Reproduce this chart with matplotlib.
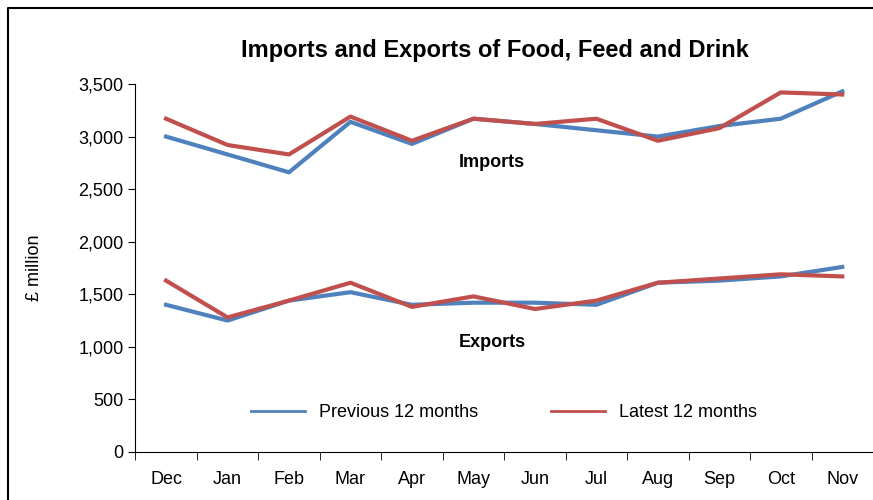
import matplotlib.pyplot as plt
from matplotlib.lines import Line2D
import numpy as np

months = ['Dec', 'Jan', 'Feb', 'Mar', 'Apr', 'May', 'Jun', 'Jul', 'Aug', 'Sep', 'Oct', 'Nov']
imports_prev = [3000, 2830, 2660, 3140, 2930, 3170, 3120, 3060, 3000, 3100, 3170, 3430]
imports_latest = [3170, 2920, 2830, 3190, 2960, 3170, 3120, 3170, 2960, 3080, 3420, 3400]
exports_prev = [1400, 1250, 1440, 1520, 1400, 1420, 1420, 1400, 1610, 1630, 1670, 1760]
exports_latest = [1630, 1280, 1440, 1610, 1380, 1480, 1360, 1440, 1610, 1650, 1690, 1670]

blue = '#4F81BD'
red = '#C0504D'
plt.rcParams['font.family'] = ['Liberation Sans', 'DejaVu Sans']

fig = plt.figure(figsize=(8.73, 5), dpi=100)
ax = fig.add_axes([0.155, 0.096, 0.845, 0.736])
# frame around the chart (left and top visible, rest cropped)
fig.lines.append(Line2D([8 / 873, 8 / 873, 1], [0, 1 - 8 / 500, 1 - 8 / 500],
                        transform=fig.transFigure, color='black', lw=1.5))

x = np.arange(len(months))
ax.plot(x, imports_prev, color=blue, lw=3, label='Previous 12 months')
ax.plot(x, imports_latest, color=red, lw=3, label='Latest 12 months')
ax.plot(x, exports_prev, color=blue, lw=3)
ax.plot(x, exports_latest, color=red, lw=3)

ax.set_xlim(-0.5, len(months) - 0.5)
ax.set_ylim(0, 3500)
ax.set_yticks(range(0, 3501, 500))
ax.set_yticklabels([f'{v:,}' for v in range(0, 3501, 500)], fontsize=13)
ax.set_xticks(x)
ax.set_xticklabels(months, fontsize=13)
ax.set_xticks(np.arange(-0.5, len(months), 1), minor=True)
ax.tick_params(axis='x', which='major', length=0, pad=14)
ax.tick_params(axis='x', which='minor', length=6, direction='out')
ax.tick_params(axis='y', length=5, direction='out')
for s in ['top', 'right']:
    ax.spines[s].set_visible(False)
ax.set_ylabel('£ million', fontsize=13)
ax.yaxis.set_label_coords(-0.125, 0.5)

ax.text(5.3, 2710, 'Imports', fontsize=13, fontweight='bold', ha='center')
ax.text(5.3, 1000, 'Exports', fontsize=13, fontweight='bold', ha='center')
fig.text(0.567, 0.885, 'Imports and Exports of Food, Feed and Drink', fontsize=17,
         fontweight='bold', ha='center')
leg = ax.legend(loc='lower center', bbox_to_anchor=(0.5, 0.04), ncol=2, frameon=False,
                fontsize=13, handlelength=3, columnspacing=4)
for h in leg.get_lines():
    h.set_linewidth(2)
fig.savefig('out.png')
